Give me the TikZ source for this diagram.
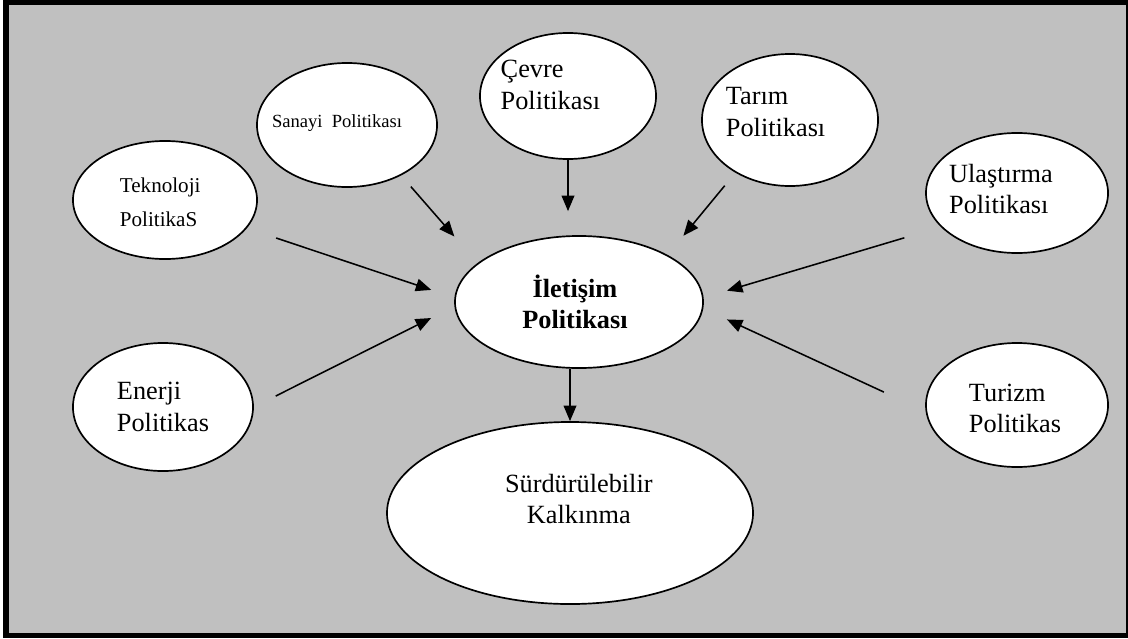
\documentclass[tikz,border=0pt]{standalone}
\usepackage{fontspec}
\setmainfont{Liberation Serif}
\usepackage{tikz}
\usetikzlibrary{positioning, shapes.geometric, arrows.meta}
\definecolor{hgrau}{RGB}{192,192,192}
\tikzstyle{wkreis} = [ellipse, draw=black, fill=white, line width=1.2pt, inner sep=0pt]
\tikzstyle{txt} = [align=left, inner sep=0pt, font=\fontsize{18.7}{22.4}\selectfont]
\tikzstyle{arrow} = [-{Triangle[length=11pt,width=9pt]}, line width=1.1pt]

\begin{document}
\begin{tikzpicture}[x=0.025cm, y=-0.025cm]
    \useasboundingbox (0,0) rectangle (1128,638);
    \fill[white] (0,0) rectangle (1128,638);
    \fill[black] (3,0) rectangle (1128,638);
    \fill[hgrau] (9,5) rectangle (1126,633);

    % die Politiken
    \node[wkreis, minimum width=4.6cm, minimum height=2.95cm] (tek) at (165,200) {};
    \node[txt, font=\fontsize{15}{24.2}\selectfont, xshift=-0.12cm, yshift=-0.05cm] (tek-t) at (tek) {Teknoloji\\PolitikaS};

    \node[wkreis, minimum width=4.5cm, minimum height=3.1cm] (sanayi) at (347,125) {};
    \node[txt, font=\fontsize{13.2}{16}\selectfont, xshift=-0.25cm, yshift=0.06cm] (sanayi-t) at (sanayi) {Sanayi~~Politikası};

    \node[wkreis, minimum width=4.4cm, minimum height=3.15cm] (cevre) at (568,96) {};
    \node[txt, xshift=-0.44cm, yshift=0.28cm] (cevre-t) at (cevre) {Çevre\\Politikası};

    \node[wkreis, minimum width=4.4cm, minimum height=3.3cm] (tarim) at (790,120) {};
    \node[txt, xshift=-0.36cm, yshift=0.2cm] (tarim-t) at (tarim) {Tarım\\Politikası};

    \node[wkreis, minimum width=4.55cm, minimum height=3cm] (ulas) at (1017,193) {};
    \node[txt, xshift=-0.4cm, yshift=0.1cm] (ulas-t) at (ulas) {Ulaştırma\\Politikası};

    \node[wkreis, minimum width=4.5cm, minimum height=3.2cm] (enerji) at (163,407) {};
    \node[txt] (enerji-t) at (enerji) {Enerji\\Politikas};

    \node[wkreis, minimum width=4.55cm, minimum height=3.1cm] (turizm) at (1017,405) {};
    \node[txt, xshift=-0.05cm, yshift=-0.08cm] (turizm-t) at (turizm) {Turizm\\Politikas};

    % mitte und ziel
    \node[wkreis, minimum width=6.2cm, minimum height=3.3cm] (ilet) at (579,302) {};
    \node[txt, align=center, font=\bfseries\fontsize{18.7}{22}\selectfont, xshift=-0.1cm] (ilet-t) at (ilet) {İletişim\\Politikası};

    \node[wkreis, minimum width=9.15cm, minimum height=4.55cm] (surd) at (570,513) {};
    \node[txt, align=center, xshift=0.22cm, yshift=0.35cm] (surd-t) at (surd) {Sürdürülebilir\\Kalkınma};

    % pfeile
    \draw[arrow, shorten <=0.77cm, shorten >=0.61cm] (tek.-19) -- (ilet.178);
    \draw[arrow, shorten <=0.37cm, shorten >=0.88cm] (sanayi.-43) -- (ilet.159);
    \draw[arrow, shorten >=0.6cm] (cevre.south) -- (cevre.south |- ilet.north);
    \draw[arrow, shorten <=0.42cm, shorten >=0.62cm] (tarim.-136) -- (ilet.28);
    \draw[arrow, shorten <=0.95cm, shorten >=0.61cm] (ulas.-156) -- (ilet.2);
    \draw[arrow, shorten <=0.61cm, shorten >=0.65cm] (enerji.0) -- (ilet.-178);
    \draw[arrow, shorten <=1.15cm, shorten >=0.65cm] (turizm.184) -- (ilet.-3);
    \draw[arrow] (ilet.south -| surd.north) -- (surd.north);

\end{tikzpicture}
\end{document}
